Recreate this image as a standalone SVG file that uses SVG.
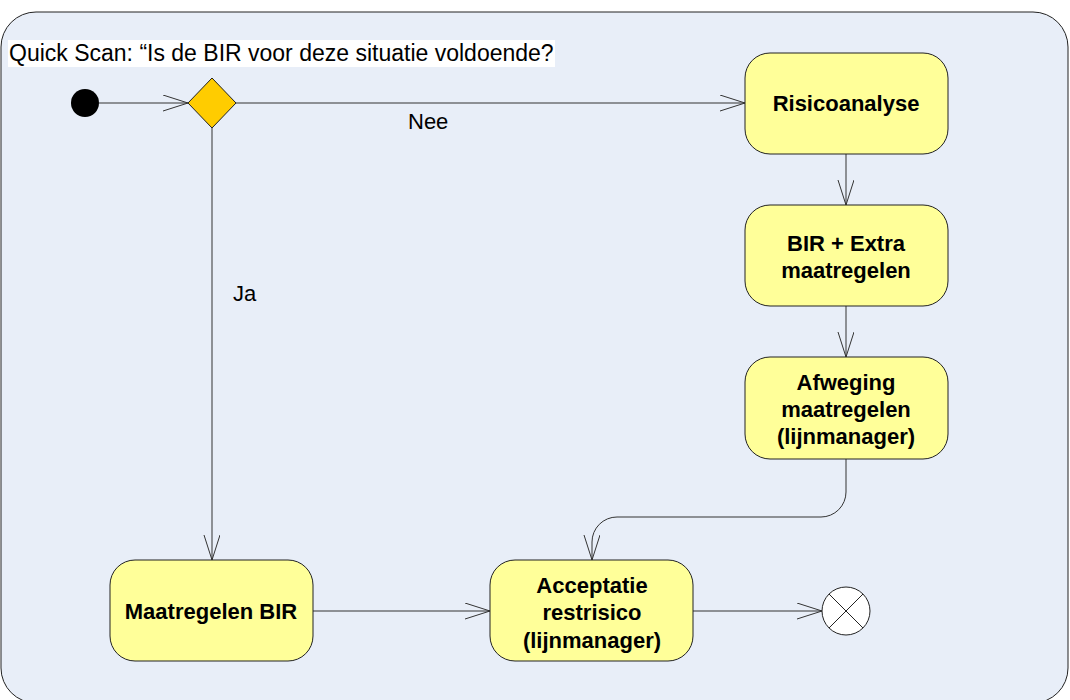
<svg xmlns="http://www.w3.org/2000/svg" width="1070" height="700" viewBox="0 0 1070 700">
<defs>
<style>
.bg{fill:#E8EEF8;stroke:#222;stroke-width:1}
.box{fill:#FFFF99;stroke:#222;stroke-width:1}
.lbl{font-family:"Liberation Sans",Arial,sans-serif;font-size:22px;font-weight:bold;fill:#000;text-anchor:middle}
.txt{font-family:"Liberation Sans",Arial,sans-serif;font-size:22px;fill:#000}
.edge{fill:none;stroke:#333;stroke-width:1}
</style>
<marker id="arr" markerUnits="userSpaceOnUse" markerWidth="30" markerHeight="20" refX="25" refY="8" orient="auto">
<path d="M0,0 L25,8 L0,16" fill="none" stroke="#333" stroke-width="1"/>
</marker>
</defs>
<rect width="1070" height="700" fill="#fff"/>
<rect class="bg" x="1" y="12" width="1067" height="691" rx="35" ry="35"/>
<g id="title">
<rect x="8" y="40" width="547" height="27" fill="#fff"/>
<text class="txt" x="9" y="61" style="font-size:23px">Quick Scan: “Is de BIR voor deze situatie voldoende?</text>
</g>
<g id="connectors">
<line class="edge" x1="99" y1="103" x2="188" y2="103" marker-end="url(#arr)"/>
<line class="edge" x1="236" y1="103" x2="745" y2="103" marker-end="url(#arr)"/>
<line class="edge" x1="212" y1="127" x2="212" y2="560" marker-end="url(#arr)"/>
<line class="edge" x1="846" y1="154" x2="846" y2="205" marker-end="url(#arr)"/>
<line class="edge" x1="846" y1="306" x2="846" y2="357" marker-end="url(#arr)"/>
<path class="edge" d="M846,459 L846,492 A25,25 0 0 1 821,517 L617,517 A25,25 0 0 0 592,542 L592,560" marker-end="url(#arr)"/>
<line class="edge" x1="313" y1="611" x2="490" y2="611" marker-end="url(#arr)"/>
<line class="edge" x1="693" y1="611" x2="822" y2="611" marker-end="url(#arr)"/>
<text class="txt" x="408" y="129">Nee</text>
<text class="txt" x="233" y="301">Ja</text>
</g>
<g id="start"><circle cx="85" cy="103" r="14" fill="#000"/></g>
<g id="decision"><polygon points="212,78 236,103 212,128 188,103" fill="#FFCC00" stroke="#222" stroke-width="1"/></g>
<g id="risicoanalyse">
<rect class="box" x="745" y="53" width="203" height="101" rx="25"/>
<text class="lbl" x="846" y="111">Risicoanalyse</text>
</g>
<g id="bir-extra">
<rect class="box" x="745" y="205" width="203" height="101" rx="25"/>
<text class="lbl" x="846" y="251">BIR + Extra</text>
<text class="lbl" x="846" y="278">maatregelen</text>
</g>
<g id="afweging">
<rect class="box" x="745" y="357" width="203" height="102" rx="25"/>
<text class="lbl" x="846" y="390">Afweging</text>
<text class="lbl" x="846" y="417">maatregelen</text>
<text class="lbl" x="846" y="444">(lijnmanager)</text>
</g>
<g id="maatregelen-bir">
<rect class="box" x="110" y="560" width="203" height="101" rx="25"/>
<text class="lbl" x="211" y="619">Maatregelen BIR</text>
</g>
<g id="acceptatie">
<rect class="box" x="490" y="560" width="203" height="101" rx="25"/>
<text class="lbl" x="592" y="593">Acceptatie</text>
<text class="lbl" x="592" y="620">restrisico</text>
<text class="lbl" x="592" y="648">(lijnmanager)</text>
</g>
<g id="end">
<circle cx="846" cy="611" r="24" fill="#fff" stroke="#222" stroke-width="1"/>
<line x1="829" y1="594" x2="863" y2="628" stroke="#222"/>
<line x1="863" y1="594" x2="829" y2="628" stroke="#222"/>
</g>
</svg>
